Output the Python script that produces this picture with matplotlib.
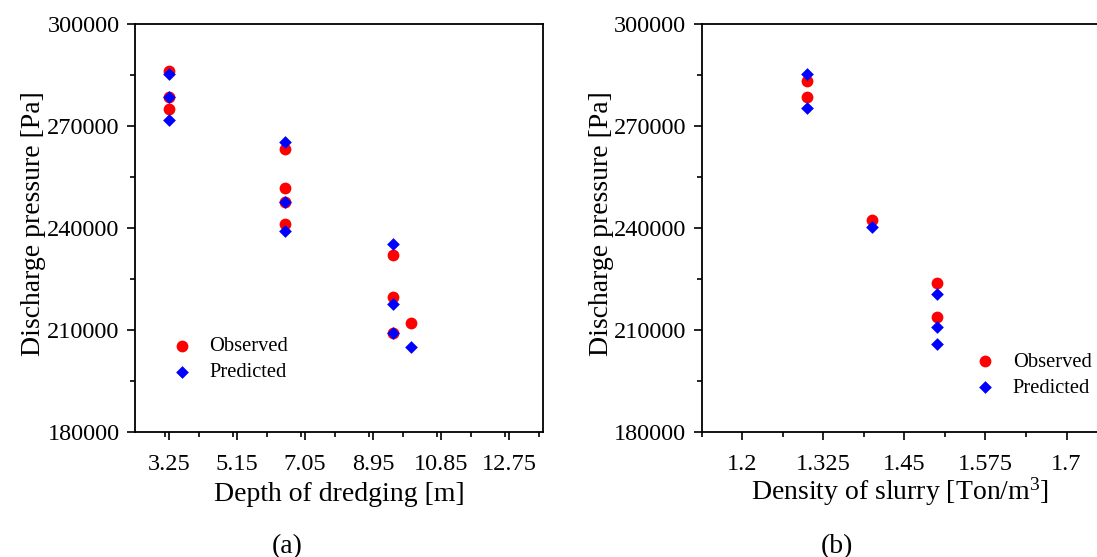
import matplotlib
matplotlib.use("Agg")
import matplotlib.pyplot as plt
from matplotlib.ticker import MultipleLocator, FixedLocator

plt.rcParams['font.family'] = ['Liberation Serif', 'DejaVu Serif']
plt.rcParams['mathtext.fontset'] = 'custom'
plt.rcParams['mathtext.rm'] = 'Liberation Serif'
plt.rcParams['mathtext.it'] = 'Liberation Serif:italic'

# ---- data: panel (a) depth of dredging ----
a_x_obs = [3.25, 3.25, 3.25, 6.5, 6.5, 6.5, 6.5, 9.5, 9.5, 9.5, 10.0]
a_y_obs = [286200, 278400, 274800, 263100, 251600, 247500, 241200, 232000, 219600, 209100, 211900]
a_x_pred = [3.25, 3.25, 3.25, 6.5, 6.5, 6.5, 9.5, 9.5, 9.5, 10.0]
a_y_pred = [285100, 278400, 271700, 265100, 247500, 239100, 235200, 217500, 209100, 205000]
a_xticks = [3.25, 5.15, 7.05, 8.95, 10.85, 12.75]

# ---- data: panel (b) density of slurry ----
b_x_obs = [1.3, 1.3, 1.4, 1.5, 1.5]
b_y_obs = [283200, 278400, 242400, 223700, 213700]
b_x_pred = [1.3, 1.3, 1.4, 1.5, 1.5, 1.5]
b_y_pred = [285200, 275300, 240300, 220600, 210700, 205800]
b_xticks = [1.2, 1.325, 1.45, 1.575, 1.7]

yticks = [180000, 210000, 240000, 270000, 300000]

W, H = 1097, 557
fig = plt.figure(figsize=(W / 100, H / 100), dpi=100)

def px(x0, y0, x1, y1):
    return [x0 / W, 1 - y1 / H, (x1 - x0) / W, (y1 - y0) / H]

axa = fig.add_axes(px(135, 23.7, 543, 431.7))
axb = fig.add_axes(px(701.7, 23.7, 1099, 431.7))

TICK_FS = 17.5
LAB_FS = 20
LEG_FS = 14.8

for ax in (axa, axb):
    ax.set_ylim(180000, 300000)
    ax.yaxis.set_major_locator(FixedLocator(yticks))
    ax.yaxis.set_minor_locator(MultipleLocator(15000))
    ax.set_yticklabels([str(v) for v in yticks])
    ax.tick_params(axis='both', which='major', direction='out', length=6, width=1.2,
                   labelsize=TICK_FS)
    ax.tick_params(axis='y', which='major', pad=5)
    ax.tick_params(axis='x', which='major', pad=10)
    ax.tick_params(axis='both', which='minor', direction='out', length=3.5, width=1.2)
    for s in ax.spines.values():
        s.set_linewidth(1.3)

# panel (a)
axa.set_xlim(2.3, 13.7)
axa.xaxis.set_major_locator(FixedLocator(a_xticks))
axa.xaxis.set_minor_locator(MultipleLocator(0.95, offset=0.3))
axa.set_xticklabels([f"{v:g}" for v in a_xticks])
axa.scatter(a_x_obs, a_y_obs, marker='o', s=72, color='#ff0000', linewidths=0, label='Observed', zorder=3)
axa.scatter(a_x_pred, a_y_pred, marker='D', s=42, color='#0000ff', linewidths=0, label='Predicted', zorder=4)
axa.set_xlabel('Depth of dredging [m]', fontsize=LAB_FS)
axa.set_ylabel('Discharge pressure [Pa]', fontsize=LAB_FS)
axa.xaxis.set_label_coords(0.5, -0.123)
axa.yaxis.set_label_coords(-0.218, 0.51)

# panel (b)
axb.set_xlim(1.1375, 1.75)
axb.xaxis.set_major_locator(FixedLocator(b_xticks))
axb.xaxis.set_minor_locator(MultipleLocator(0.125, offset=0.0125))
axb.set_xticklabels([f"{v:g}" for v in b_xticks])
axb.scatter(b_x_obs, b_y_obs, marker='o', s=72, color='#ff0000', linewidths=0, label='Observed', zorder=3)
axb.scatter(b_x_pred, b_y_pred, marker='D', s=42, color='#0000ff', linewidths=0, label='Predicted', zorder=4)
axb.set_xlabel(r'Density of slurry [Ton/m$^{\mathrm{3}}$]', fontsize=LAB_FS)
axb.set_ylabel('Discharge pressure [Pa]', fontsize=LAB_FS)
axb.xaxis.set_label_coords(0.5, -0.108)
axb.yaxis.set_label_coords(-0.221, 0.51)

fs_px = LEG_FS * 100 / 72
for ax, mx, my in ((axa, 181.7, 359.6), (axb, 985, 375)):
    ax.legend(loc='center left', bbox_to_anchor=((mx - fs_px) / W, 1 - my / H),
              bbox_transform=fig.transFigure, frameon=False, fontsize=LEG_FS,
              handlelength=2, handletextpad=0.35, borderpad=0, borderaxespad=0,
              labelspacing=0.33, scatterpoints=1)

fig.text(287 / W, 1 - 534 / H, '(a)', fontsize=LAB_FS, ha='center', va='top')
fig.text(837 / W, 1 - 534 / H, '(b)', fontsize=LAB_FS, ha='center', va='top')

fig.savefig('out.png', dpi=100)
